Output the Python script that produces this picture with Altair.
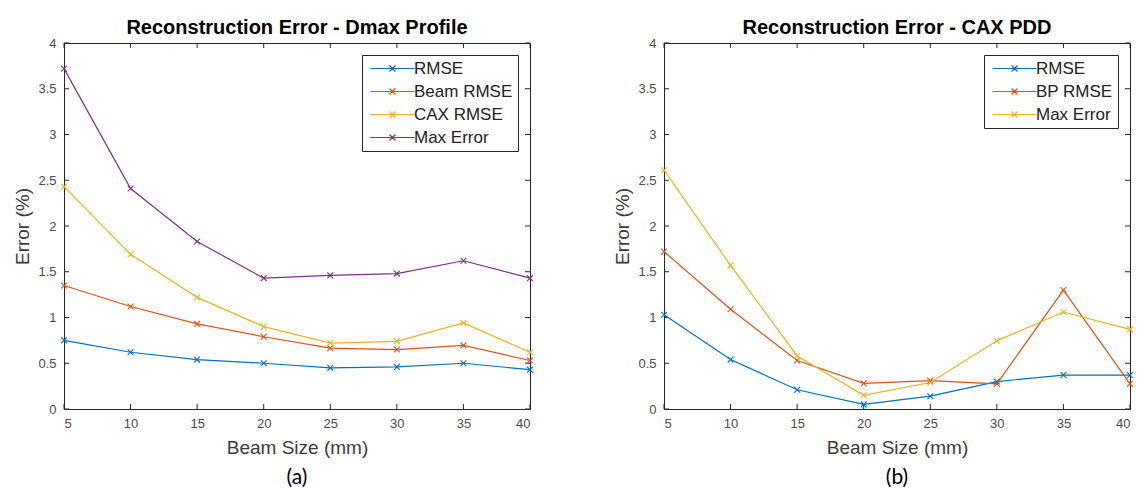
import altair as alt
import pandas as pd

beam_size = [5, 10, 15, 20, 25, 30, 35, 40]

# Panel (a): Dmax Profile
a_names = ["RMSE", "Beam RMSE", "CAX RMSE", "Max Error"]
a_rmse = [0.75, 0.62, 0.54, 0.50, 0.45, 0.46, 0.50, 0.43]
a_beam = [1.35, 1.12, 0.93, 0.79, 0.665, 0.65, 0.695, 0.53]
a_cax = [2.43, 1.69, 1.22, 0.90, 0.72, 0.74, 0.94, 0.62]
a_max = [3.72, 2.41, 1.83, 1.43, 1.46, 1.48, 1.62, 1.43]

# Panel (b): CAX PDD
b_names = ["RMSE", "BP RMSE", "Max Error"]
b_rmse = [1.03, 0.54, 0.21, 0.05, 0.14, 0.30, 0.37, 0.37]
b_bp = [1.72, 1.09, 0.53, 0.28, 0.31, 0.275, 1.30, 0.275]
b_max = [2.61, 1.57, 0.58, 0.15, 0.29, 0.745, 1.06, 0.87]

x_ticks = [5, 10, 15, 20, 25, 30, 35, 40]
y_ticks = [0, 0.5, 1, 1.5, 2, 2.5, 3, 3.5, 4]

COLORS = ["#0072BD", "#D95319", "#EDB120", "#7E2F8E"]
XPATH = "M-1,-1L1,1M-1,1L1,-1"
LEGPATH = "M-4.4,0L4.4,0M-0.6,-0.6L0.6,0.6M-0.6,0.6L0.6,-0.6"
W, H = 466, 366
TK = 5
AXC = "#262626"
FONT = "Arial"


def panel(names, series, title, tag):
    rows = []
    for n, vals in zip(names, series):
        for xv, yv in zip(beam_size, vals):
            rows.append({"size": xv, "err": yv, "series": n})
    df = pd.DataFrame(rows)
    colors = COLORS[: len(names)]

    xs = alt.Scale(domain=[5, 40], nice=False, zero=False)
    ys = alt.Scale(domain=[0, 4], nice=False)

    lines = alt.Chart(df).mark_line(
        strokeWidth=1.2,
        point=alt.OverlayMarkDef(shape=XPATH, filled=False, size=34, strokeWidth=1.1),
    ).encode(
        x=alt.X("size:Q", scale=xs, title="Beam Size (mm)",
                axis=alt.Axis(values=x_ticks, ticks=False, grid=False, format="d")),
        y=alt.Y("err:Q", scale=ys, title="Error (%)",
                axis=alt.Axis(values=y_ticks, ticks=False, grid=False, format=".1~f")),
        color=alt.Color(
            "series:N",
            sort=names,
            scale=alt.Scale(domain=names, range=colors),
            legend=alt.Legend(
                title=None,
                orient="top-right",
                offset=12,
                padding=5,
                strokeColor=AXC,
                fillColor="white",
                labelFont=FONT,
                labelFontSize=17,
                labelColor="#222222",
                labelOffset=13,
                symbolOffset=17,
                symbolType=LEGPATH,
                symbolSize=100,
                symbolStrokeWidth=1.2,
                symbolFillColor="transparent",
                rowPadding=5,
            ),
        ),
    )

    xt = pd.DataFrame({"t": x_ticks})
    yt = pd.DataFrame({"t": y_ticks})
    tb = alt.Chart(xt).mark_rule(color=AXC, strokeWidth=1).encode(
        x=alt.X("t:Q", scale=xs), y=alt.value(H), y2=alt.value(H - TK))
    tt = alt.Chart(xt).mark_rule(color=AXC, strokeWidth=1).encode(
        x=alt.X("t:Q", scale=xs), y=alt.value(0), y2=alt.value(TK))
    tl = alt.Chart(yt).mark_rule(color=AXC, strokeWidth=1).encode(
        y=alt.Y("t:Q", scale=ys), x=alt.value(0), x2=alt.value(TK))
    tr = alt.Chart(yt).mark_rule(color=AXC, strokeWidth=1).encode(
        y=alt.Y("t:Q", scale=ys), x=alt.value(W), x2=alt.value(W - TK))

    lab = alt.Chart(pd.DataFrame({"t": [tag]})).mark_text(
        font="Lato", fontSize=21, color="black", baseline="middle", align="center"
    ).encode(text="t:N", x=alt.value(W / 2), y=alt.value(H + 69))

    return alt.layer(tb, tt, tl, tr, lines, lab).properties(
        width=W, height=H,
        title=alt.Title(title, font=FONT, fontSize=20, fontWeight="bold",
                        color="black", offset=-1),
    )


left = panel(a_names, [a_rmse, a_beam, a_cax, a_max],
             "Reconstruction Error - Dmax Profile", "(a)")
right = panel(b_names, [b_rmse, b_bp, b_max],
              "Reconstruction Error - CAX PDD", "(b)")

chart = alt.hconcat(left, right, spacing=77).resolve_scale(
    color="independent"
).resolve_legend(color="independent").properties(
    padding={"left": 13, "top": 17, "right": 0, "bottom": 0},
    background="white",
).configure_view(
    stroke=AXC, strokeWidth=1
).configure_axis(
    domainColor=AXC,
    domainWidth=1,
    labelFont=FONT,
    labelFontSize=13,
    labelColor="#4a4a4a",
    labelPadding=8,
    titleFont=FONT,
    titleFontSize=19,
    titleFontWeight="normal",
    titleColor="#3a3a3a",
).configure_axisX(titlePadding=8).configure_axisY(titlePadding=5)

chart.save("out.html", embed_options={"renderer": "svg", "actions": False})
